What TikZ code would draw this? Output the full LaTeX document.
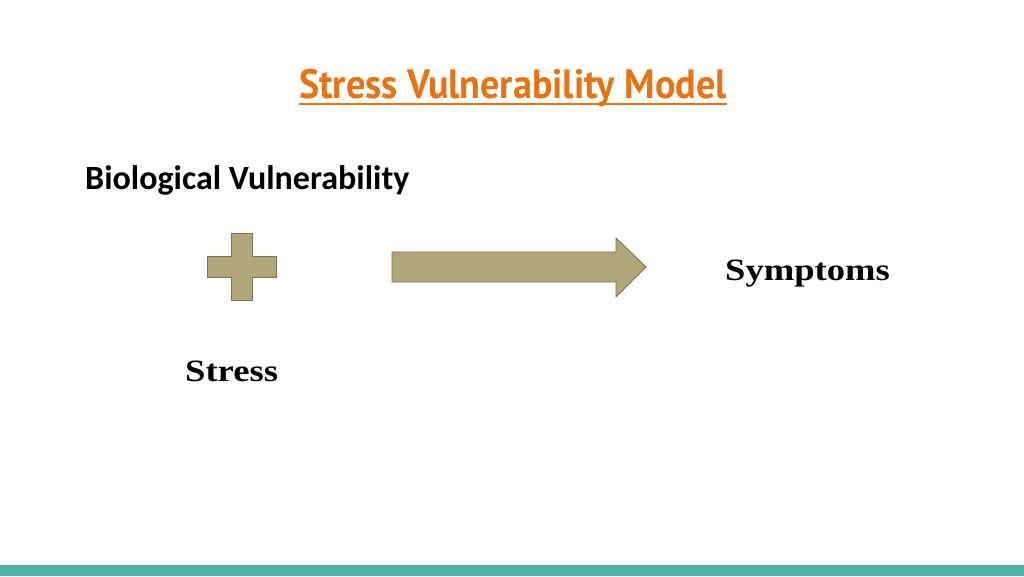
\documentclass[tikz,border=0pt]{standalone}
\usepackage{fontspec}
\usepackage{tikz}
\usetikzlibrary{positioning, calc}
\newfontfamily\titlefont[FakeStretch=0.93]{PT Sans}
\newfontfamily\labelfont{Carlito}
\newfontfamily\serifbold[FakeStretch=1.18]{Liberation Serif}
\definecolor{titlecolor}{RGB}{232,115,18}
\definecolor{shapefill}{RGB}{176,166,122}
\definecolor{shapeline}{RGB}{125,114,72}
\definecolor{barcolor}{RGB}{77,177,165}

\begin{document}
\begin{tikzpicture}[
    x=1pt, y=-1pt,
    label/.style={inner sep=0pt, anchor=base west},
    figure/.style={draw=shapeline, line width=0.9pt, fill=shapefill, line join=miter}
]
    \useasboundingbox (0,0) rectangle (1024,576);
    \fill[white] (0,0) rectangle (1024,576);

    % Title with underline
    \node[label, text=titlecolor, font=\titlefont\bfseries\fontsize{41}{44}\selectfont] (title) at (299,98) {Stress Vulnerability Model};
    \draw[titlecolor, line width=1.6pt] ($(title.base west)+(0,6)$) -- ($(title.base east)+(0,6)$);

    % Labels
    \node[label, font=\labelfont\bfseries\fontsize{34}{36}\selectfont] (bio) at (85,189) {Biological Vulnerability};
    \node[label, font=\serifbold\bfseries\fontsize{31}{34}\selectfont] (sym) at (725,280) {Symptoms};
    \node[label, font=\serifbold\bfseries\fontsize{31}{34}\selectfont] (stress) at (185,381) {Stress};

    % Plus sign
    \draw[figure] (231,233) -- (252,233) -- (252,256) -- (276,256) -- (276,277) -- (252,277)
        -- (252,300) -- (231,300) -- (231,277) -- (207,277) -- (207,256) -- (231,256) -- cycle;

    % Block arrow
    \draw[figure] (392,252) -- (616,252) -- (616,238) -- (646,267) -- (616,297) -- (616,282)
        -- (392,282) -- cycle;

    % Bottom bar
    \fill[barcolor] (0,565) rectangle (1024,576);
\end{tikzpicture}
\end{document}
